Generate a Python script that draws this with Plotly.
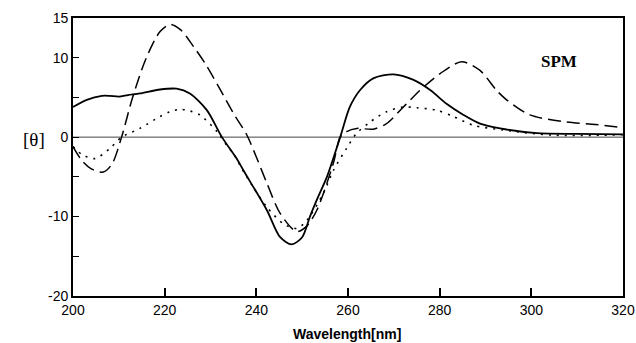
import plotly.graph_objects as go

# Wavelength (nm) and ellipticity [theta]
wl_solid = [200, 203, 206.3, 208, 210, 212, 214.6, 219, 222.6, 225.5, 229.2, 232.5, 235.7, 237.2, 242.3, 245.2,
            247.7, 250, 251.7, 253.5, 255.4, 258.3, 260.4, 262.6, 265.5, 269.9, 274.3, 278, 281.5, 285.2,
            288.8, 293.2, 301.2, 310, 320]
th_solid = [3.8, 4.7, 5.2, 5.2, 5.1, 5.3, 5.5, 6.0, 6.1, 5.5, 3.4, 0.0, -2.7, -4.2, -9.2, -12.6,
            -13.5, -12.6, -10.0, -7.5, -5.0, 0.0, 3.8, 5.9, 7.4, 7.9, 7.2, 5.9, 4.2, 2.8,
            1.7, 1.1, 0.5, 0.4, 0.35]

wl_dash = [200, 202, 204, 206.6, 208.5, 210.6, 213, 216, 219, 221.2, 223.5, 226.3, 228.8, 232.1, 235, 237.9,
           240, 242.3, 245.2, 248.8, 251, 253.2, 256.8, 258.3, 259.7, 261.9, 265.5, 268.4, 272.1, 275.7,
           280.1, 284.8, 288.8, 292.4, 294.6, 299.7, 307.7, 314, 320]
th_dash = [-1.2, -3.0, -4.0, -4.4, -3.4, 0.0, 5.0, 10.0, 13.3, 14.2, 13.5, 11.4, 9.3, 6.0, 3.0, 0.3,
           -2.5, -5.8, -9.6, -11.9, -11.2, -9.2, -3.3, 0.0, 0.7, 1.1, 1.0, 1.7, 3.8, 5.9,
           8.0, 9.5, 8.4, 5.9, 4.7, 2.8, 1.9, 1.6, 1.2]

wl_dot = [200, 202, 204.8, 208.1, 210.6, 214.6, 219, 221.2, 223.3, 225.5, 227.7, 231.4, 233.5, 235, 237.9,
          242.3, 245.9, 248.8, 251, 254.6, 256.8, 259.7, 261.9, 264.8, 268.4, 272.1, 275, 279.3, 283,
          287.3, 293.9, 304.7, 320]
th_dot = [-1.2, -2.2, -2.7, -1.4, 0.0, 1.1, 2.6, 3.2, 3.5, 3.3, 2.8, 0.7, -1.0, -2.1, -5.0,
          -8.8, -10.9, -11.5, -10.5, -7.1, -4.2, -1.4, 0.5, 1.9, 3.2, 3.8, 3.7, 3.4, 2.6,
          1.5, 0.9, 0.25, 0.3]

x_ticks = [200, 220, 240, 260, 280, 300, 320]
y_ticks = [15, 10, 5, 0, -5, -10, -15, -20]
y_ticktext = ["15", "10", "", "0", "", "-10", "", "-20"]

L, R, T, B = 73, 13, 18, 47
W, H = 636, 343
pw, ph = W - L - R, H - T - B

fig = go.Figure()
fig.add_trace(go.Scatter(x=wl_solid, y=th_solid, mode="lines",
                         line=dict(color="black", width=1.8, shape="spline", smoothing=0.8)))
fig.add_trace(go.Scatter(x=wl_dash, y=th_dash, mode="lines",
                         line=dict(color="black", width=1.5, dash="13px,6px", shape="spline", smoothing=0.8)))
fig.add_trace(go.Scatter(x=wl_dot, y=th_dot, mode="lines",
                         line=dict(color="black", width=1.6, dash="2px,6px", shape="spline", smoothing=0.8)))

fig.add_shape(type="line", xref="x", yref="y", x0=200, x1=320, y0=0, y1=0,
              line=dict(color="#444", width=1), layer="below")

fig.update_layout(
    width=W, height=H,
    margin=dict(l=L, r=R, t=T, b=B),
    paper_bgcolor="white", plot_bgcolor="white",
    showlegend=False,
    font=dict(family="Liberation Sans, Arial, sans-serif", size=14, color="black"),
    xaxis=dict(range=[200, 320], tickvals=x_ticks, ticks="inside", ticklen=8, tickwidth=1.5,
               tickcolor="black", showgrid=False, zeroline=False, showline=True, linecolor="black",
               linewidth=1.8, mirror=True, tickfont=dict(size=14), automargin=False),
    yaxis=dict(range=[-20, 15], tickvals=y_ticks, ticktext=y_ticktext, ticks="inside", ticklen=6,
               tickwidth=1.3, tickcolor="black", showgrid=False, zeroline=False, showline=True,
               linecolor="black", linewidth=1.8, mirror=True, tickfont=dict(size=14), automargin=False),
    annotations=[
        dict(text="<b>Wavelength[nm]</b>", x=(347 - L) / pw, y=(H - B - 334) / ph, xref="paper", yref="paper",
             showarrow=False, yanchor="middle",
             font=dict(family="Liberation Sans, Arial, sans-serif", size=14, color="black")),
        dict(text="[θ]", x=(21 - L) / pw, y=(H - B - 139) / ph, xref="paper", yref="paper", showarrow=False,
             font=dict(family="Liberation Serif, Times New Roman, serif", size=19, color="black")),
        dict(text="<b>SPM</b>", x=306, y=9.5, xref="x", yref="y", showarrow=False,
             font=dict(family="Liberation Serif, Times New Roman, serif", size=17, color="black")),
    ],
)

fig.write_html("out.html")
